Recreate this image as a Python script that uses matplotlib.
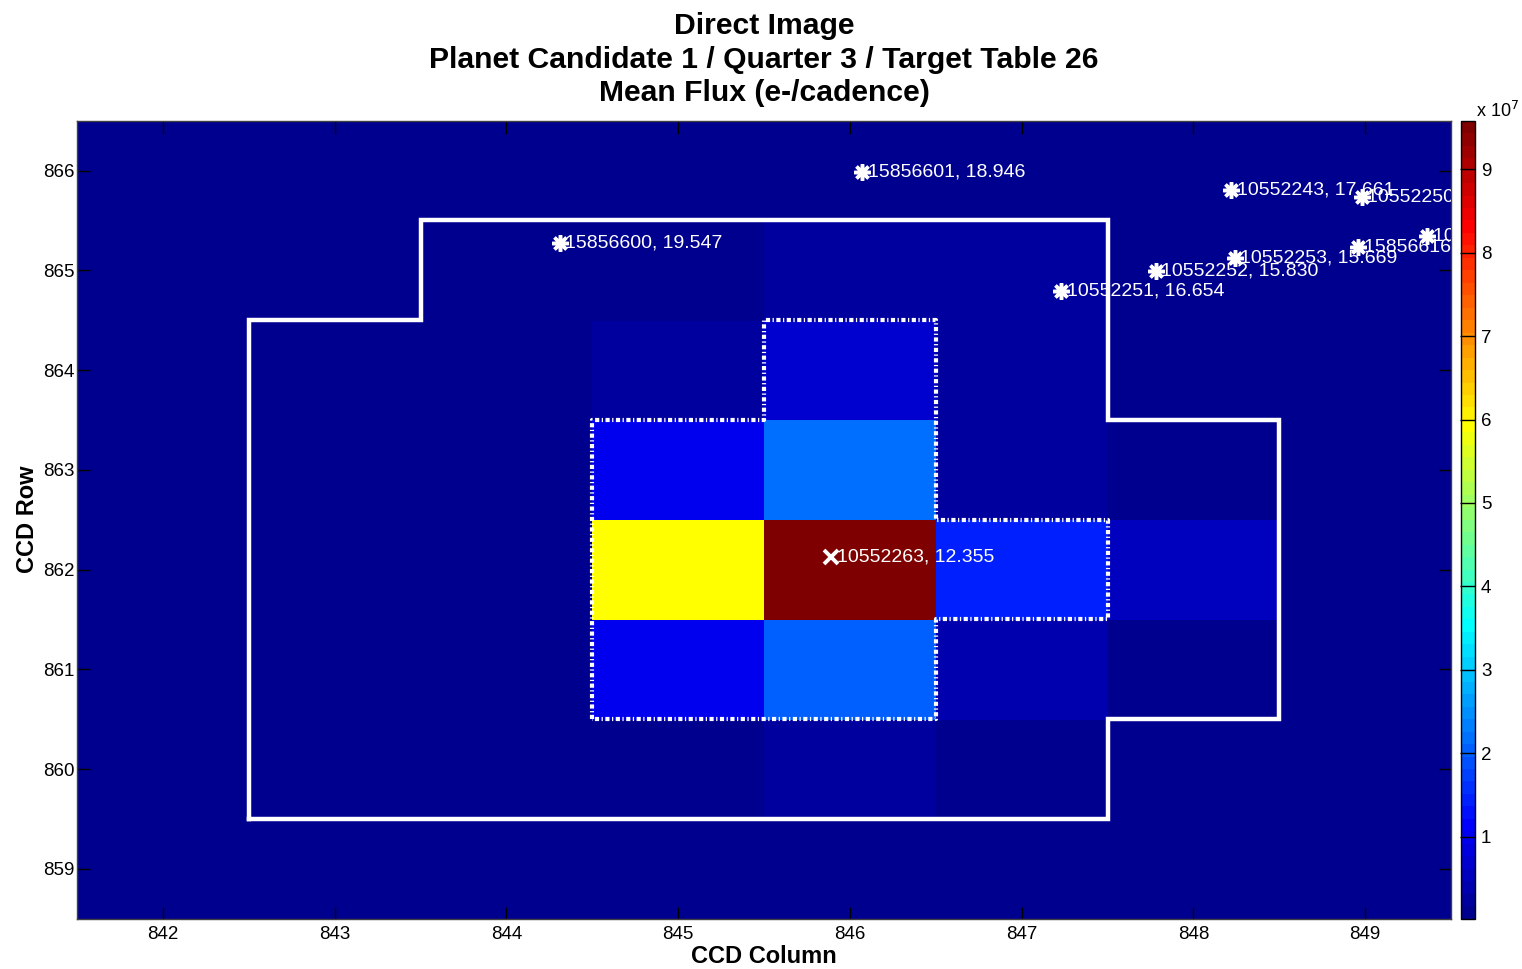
import numpy as np
import matplotlib
matplotlib.use("Agg")
import matplotlib.pyplot as plt
from matplotlib.colors import ListedColormap

plt.rcParams['font.family'] = ['Liberation Sans', 'DejaVu Sans']

# pixel grid (CCD rows x columns), mean flux in units of 1e7 e-/cadence
ccd_columns = [842, 843, 844, 845, 846, 847, 848, 849]
ccd_rows = [859, 860, 861, 862, 863, 864, 865, 866]
mean_flux = np.array([
    # 842   843   844   845   846   847   848   849
    [0.05, 0.05, 0.05, 0.05, 0.06, 0.05, 0.05, 0.04],   # 859
    [0.06, 0.07, 0.08, 0.10, 0.22, 0.10, 0.06, 0.05],   # 860
    [0.06, 0.07, 0.09, 0.95, 2.00, 0.35, 0.08, 0.05],   # 861
    [0.07, 0.08, 0.12, 5.90, 9.58, 1.40, 0.50, 0.06],   # 862
    [0.06, 0.07, 0.10, 0.95, 2.15, 0.30, 0.12, 0.05],   # 863
    [0.05, 0.06, 0.08, 0.20, 0.65, 0.25, 0.08, 0.05],   # 864
    [0.04, 0.05, 0.06, 0.10, 0.20, 0.18, 0.07, 0.04],   # 865
    [0.02, 0.04, 0.05, 0.06, 0.07, 0.06, 0.05, 0.03],   # 866
]) * 1e7

# optimal aperture outline
aperture_col = [842.5, 842.5, 843.5, 843.5, 847.5, 847.5, 848.5, 848.5, 847.5, 847.5, 842.5]
aperture_row = [859.5, 864.5, 864.5, 865.5, 865.5, 863.5, 863.5, 860.5, 860.5, 859.5, 859.5]

# centroid pixels outline
centroid_col = [844.5, 844.5, 845.5, 845.5, 846.5, 846.5, 847.5, 847.5, 846.5, 846.5, 844.5]
centroid_row = [860.5, 863.5, 863.5, 864.5, 864.5, 862.5, 862.5, 861.5, 861.5, 860.5, 860.5]

# target star
target_id = 10552263
target_mag = 12.355
target_col = 845.89
target_row = 862.13

# neighbouring stars
star_ids = [15856601, 15856600, 10552243, 10552250, 10552253,
            10552252, 10552251, 15856616, 10552262]
star_mags = [18.946, 19.547, 17.661, 17.918, 15.669,
             15.830, 16.654, 19.212, 16.102]
star_cols = [846.07, 844.31, 848.22, 848.98, 848.24,
             847.78, 847.23, 848.96, 849.36]
star_rows = [865.99, 865.27, 865.81, 865.74, 865.12,
             864.99, 864.79, 865.23, 865.34]


def matlab_jet(m=64):
    n = int(np.ceil(m / 4))
    u = np.concatenate([np.arange(1, n + 1) / n, np.ones(n - 1), np.arange(n, 0, -1) / n])
    g = int(np.ceil(n / 2)) - (m % 4 == 1) + np.arange(1, len(u) + 1)
    r = g + n
    b = g - n
    cmap = np.zeros((m, 3))
    ok = g <= m
    cmap[g[ok] - 1, 1] = u[ok]
    ok = r <= m
    cmap[r[ok] - 1, 0] = u[ok]
    ok = b >= 1
    cmap[b[ok] - 1, 2] = u[ok]
    return ListedColormap(cmap)


fig = plt.figure(figsize=(15.22, 9.69), dpi=100)
ax = fig.add_axes([0.0506, 0.052, 0.9028, 0.8234])
cax = fig.add_axes([0.9599, 0.052, 0.0095, 0.8234])

img = ax.imshow(mean_flux, cmap=matlab_jet(64), origin='lower', aspect='auto',
                interpolation='nearest',
                extent=[ccd_columns[0] - 0.5, ccd_columns[-1] + 0.5,
                        ccd_rows[0] - 0.5, ccd_rows[-1] + 0.5],
                vmin=mean_flux.min(), vmax=mean_flux.max())

ax.plot(aperture_col, aperture_row, color='white', lw=3.2, solid_joinstyle='miter')
ax.plot(centroid_col, centroid_row, color='white', lw=3, dashes=(1.0, 0.6, 0.3, 0.6))

ax.plot(star_cols, star_rows, linestyle='none', marker=(8, 2, 0), ms=12,
        mec='white', mew=2.5)
for sid, mag, c, r in zip(star_ids, star_mags, star_cols, star_rows):
    t = ax.annotate(f'{sid}, {mag:.3f}', (c, r), xytext=(4, 0), textcoords='offset points',
                    color='white', fontsize=14, va='center', ha='left',
                    annotation_clip=False)
    # labels near the right edge are cut at the axes border
    t.set_clip_box(ax.bbox)
    t.set_clip_on(True)

ax.plot([target_col], [target_row], linestyle='none', marker='x', ms=10,
        mec='white', mew=2.8)
ax.annotate(f'{target_id}, {target_mag:.3f}', (target_col, target_row), xytext=(4, 0),
            textcoords='offset points', color='white', fontsize=14, va='center',
            ha='left')

ax.set_xlim(ccd_columns[0] - 0.5, ccd_columns[-1] + 0.5)
ax.set_ylim(ccd_rows[0] - 0.5, ccd_rows[-1] + 0.5)
ax.set_xticks(ccd_columns)
ax.set_yticks(ccd_rows)
ax.tick_params(direction='in', length=9, width=1, labelsize=13.5,
               top=True, right=True)
ax.tick_params(axis='x', pad=5)
ax.tick_params(axis='y', pad=1.5)
for s in ax.spines.values():
    s.set_linewidth(1)
    s.set_color('#404040')

ax.set_xlabel('CCD Column', fontsize=17, fontweight='bold', labelpad=2)
ax.set_ylabel('CCD Row', fontsize=17, fontweight='bold', labelpad=3)
ax.set_title('Direct Image\nPlanet Candidate 1 / Quarter 3 / Target Table 26\nMean Flux (e-/cadence)',
             fontsize=21.7, fontweight='bold', linespacing=1.25, pad=14)

cb = fig.colorbar(img, cax=cax)
cb.set_ticks([i * 1e7 for i in range(1, 10)])
cb.set_ticklabels([str(i) for i in range(1, 10)])
cb.ax.tick_params(direction='in', length=10.5, width=1, labelsize=13.5, pad=4)
cb.outline.set_linewidth(1)
fig.text(0.9695, 0.875, r'x 10$^{7}$', fontsize=13, ha='left', va='bottom')

fig.savefig('out.png', dpi=100)
